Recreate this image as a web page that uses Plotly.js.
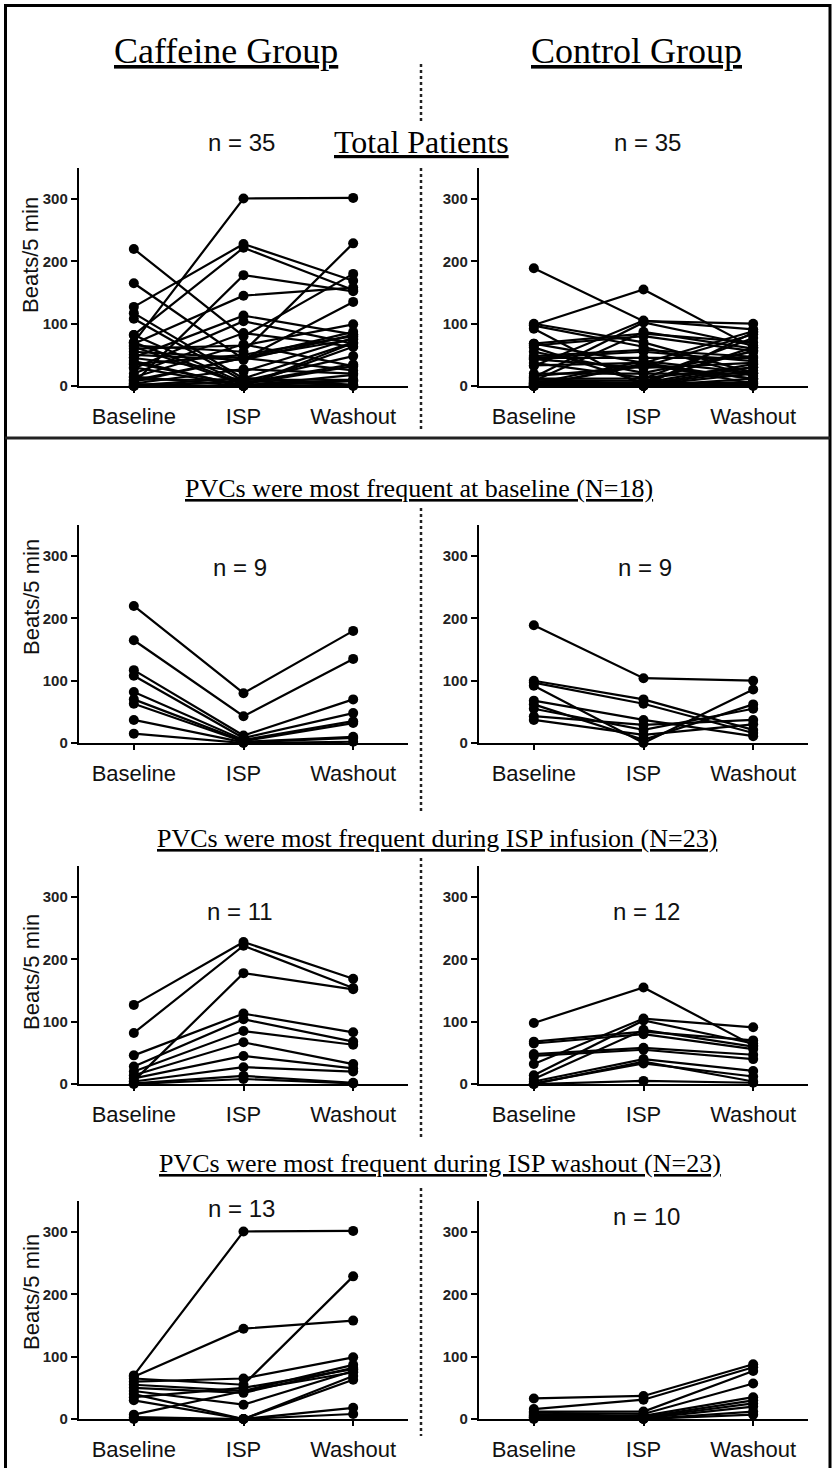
<!DOCTYPE html>
<html><head><meta charset="utf-8">
<script src="https://cdn.plot.ly/plotly-3.0.1.min.js"></script>
<style>html,body{margin:0;padding:0;background:#fff;}#chart{width:835px;height:1468px;}</style>
</head><body><div id="chart"></div>
<script>
// ---------------- DATA ----------------
const phases = ['Baseline', 'ISP', 'Washout'];
const yTickVals = [0, 100, 200, 300];
const yTickText = ['0', '100', '200', '300'];

// each patient: [Baseline, ISP, Washout] in beats/5 min
const caffPeakBaseline = [
  [220, 80, 180], [165, 43, 135], [117, 12, 70], [108, 8, 48], [82, 5, 35],
  [70, 3, 32], [63, 2, 10], [37, 1, 8], [15, 0, 2]
];
const ctrlPeakBaseline = [
  [189, 104, 100], [100, 70, 21], [97, 63, 16], [92, 0, 86], [68, 37, 11],
  [62, 5, 62], [55, 21, 55], [43, 29, 37], [37, 13, 30]
];
const caffPeakISP = [
  [127, 228, 169], [82, 222, 154], [5, 178, 152], [46, 113, 83], [28, 104, 68],
  [20, 85, 63], [14, 67, 32], [9, 45, 25], [4, 27, 20], [1, 13, 2], [0, 8, 1]
];
const ctrlPeakISP = [
  [98, 155, 62], [68, 84, 70], [65, 80, 56], [48, 58, 47], [45, 55, 40], [32, 105, 91],
  [14, 102, 65], [8, 87, 60], [4, 40, 21], [1, 33, 12], [0, 36, 4], [0, 5, 2]
];
const caffPeakWashout = [
  [70, 301, 302], [68, 145, 158], [65, 55, 229], [60, 65, 99], [55, 45, 87],
  [50, 42, 82], [45, 23, 77], [40, 0, 69], [30, 0, 63], [35, 50, 80],
  [7, 45, 75], [3, 0, 18], [0, 0, 8]
];
const ctrlPeakWashout = [
  [33, 37, 88], [16, 31, 83], [12, 12, 77], [10, 8, 57], [8, 5, 35],
  [6, 3, 30], [4, 2, 25], [3, 1, 20], [2, 0, 12], [0, 0, 7]
];
// patients not assigned to a single peak phase (ties), only in the totals
const caffOther = [[0, 0, 0], [10, 10, 10]];
const ctrlOther = [[0, 0, 0], [5, 5, 5], [45, 45, 45], [20, 20, 20]];

const groupTitles = ['Caffeine Group', 'Control Group'];
const rowTitles = [
  'Total Patients',
  'PVCs were most frequent at baseline (N=18)',
  'PVCs were most frequent during ISP infusion (N=23)',
  'PVCs were most frequent during ISP washout (N=23)'
];
const nLabels = [['n = 35', 'n = 35'], ['n = 9', 'n = 9'], ['n = 11', 'n = 12'], ['n = 13', 'n = 10']];
const yAxisTitle = 'Beats/5 min';

// ---------------- BUILD ----------------
const caffTotal = caffPeakBaseline.concat(caffPeakISP, caffPeakWashout, caffOther);
const ctrlTotal = ctrlPeakBaseline.concat(ctrlPeakISP, ctrlPeakWashout, ctrlOther);
const panels = [
  [caffTotal, ctrlTotal],
  [caffPeakBaseline, ctrlPeakBaseline],
  [caffPeakISP, ctrlPeakISP],
  [caffPeakWashout, ctrlPeakWashout]
];

const W = 835, H = 1468;
const colX = [[79, 408], [479, 808]];
const rowY = [[168, 386], [525, 743], [866, 1084], [1201, 1419]];
const px = v => v / W, py = v => 1 - v / H;

const SANS = 'Liberation Sans, Arial, sans-serif';
const SERIF = 'Liberation Serif, Times New Roman, serif';

const traces = [];
const layout = {
  width: W, height: H,
  margin: {l: 0, r: 0, t: 0, b: 0},
  paper_bgcolor: '#fff', plot_bgcolor: 'rgba(0,0,0,0)',
  showlegend: false,
  annotations: [], shapes: []
};

panels.forEach((row, r) => {
  row.forEach((patients, c) => {
    const k = r * 2 + c + 1;
    const xa = 'xaxis' + (k === 1 ? '' : k), ya = 'yaxis' + (k === 1 ? '' : k);
    const xr = 'x' + (k === 1 ? '' : k), yr = 'y' + (k === 1 ? '' : k);
    layout[xa] = {
      domain: [px(colX[c][0]), px(colX[c][1])], anchor: yr,
      type: 'category', categoryorder: 'array', categoryarray: phases,
      range: [-0.5, 2.5], showgrid: false, zeroline: false,
      showline: true, linecolor: '#000', linewidth: 2.2,
      ticks: 'outside', ticklen: 5, tickwidth: 2, tickcolor: '#000',
      ticklabelstandoff: 4,
      tickfont: {family: SANS, size: 22, color: '#111'}, fixedrange: true
    };
    layout[ya] = {
      domain: [py(rowY[r][1]), py(rowY[r][0])], anchor: xr,
      range: [0, 350], showgrid: false, zeroline: false,
      showline: true, linecolor: '#000', linewidth: 2.2,
      ticks: 'outside', ticklen: 6, tickwidth: 2, tickcolor: '#000',
      tickvals: yTickVals, ticktext: yTickText,
      tickfont: {family: SANS, size: 15, color: '#222', weight: 'bold'}, fixedrange: true
    };
    patients.forEach(p => {
      traces.push({
        type: 'scatter', mode: 'lines+markers', x: phases, y: p,
        xaxis: xr, yaxis: yr, cliponaxis: false, hoverinfo: 'skip',
        line: {color: '#000', width: 2.2},
        marker: {color: '#000', size: 10}
      });
    });
  });
});

function ann(text, x, y, font, extra) {
  layout.annotations.push(Object.assign({
    text: text, xref: 'paper', yref: 'paper', x: px(x), y: py(y),
    xanchor: 'center', yanchor: 'middle', showarrow: false, font: font
  }, extra || {}));
}

// group titles
ann('<u>' + groupTitles[0] + '</u>', 226, 51, {family: SERIF, size: 36, color: '#000'});
ann('<u>' + groupTitles[1] + '</u>', 636, 51, {family: SERIF, size: 36, color: '#000'});

// row titles
const rowTitlePos = [[421, 142, 32], [419, 488, 26], [437, 838, 26], [440, 1163, 26]];
rowTitles.forEach((t, i) => ann('<u>' + t + '</u>', rowTitlePos[i][0], rowTitlePos[i][1],
  {family: SERIF, size: rowTitlePos[i][2], color: '#000'}));

// n labels
const nPos = [[[241, 143], [647, 143]], [[240, 568], [645, 567]], [[240, 911], [646, 912]], [[241, 1208], [646, 1216]]];
nLabels.forEach((pair, r) => pair.forEach((t, c) =>
  ann(t, nPos[r][c][0], nPos[r][c][1], {family: SANS, size: 24, color: '#111'})));

// y axis titles
const yTitleY = [255, 597, 972, 1292];
yTitleY.forEach(y => ann(yAxisTitle, 31, y, {family: SANS, size: 22, color: '#111'}, {textangle: -90}));

// frame, separator, dotted dividers
layout.shapes.push({type: 'rect', xref: 'paper', yref: 'paper',
  x0: px(5.5), x1: px(830), y0: py(1480), y1: py(5.5), line: {color: '#000', width: 3}});
layout.shapes.push({type: 'line', xref: 'paper', yref: 'paper',
  x0: px(5), x1: px(830), y0: py(438), y1: py(438), line: {color: '#222', width: 3}});
const dotSegs = [[64, 122], [168, 430], [508, 812], [858, 1140], [1188, 1436]];
dotSegs.forEach(s => layout.shapes.push({type: 'line', xref: 'paper', yref: 'paper',
  x0: px(421), x1: px(421), y0: py(s[0]), y1: py(s[1]), line: {color: '#222', width: 2.5, dash: 'dot'}}));

Plotly.newPlot('chart', traces, layout, {staticPlot: true, displayModeBar: false});
</script>
</body></html>
